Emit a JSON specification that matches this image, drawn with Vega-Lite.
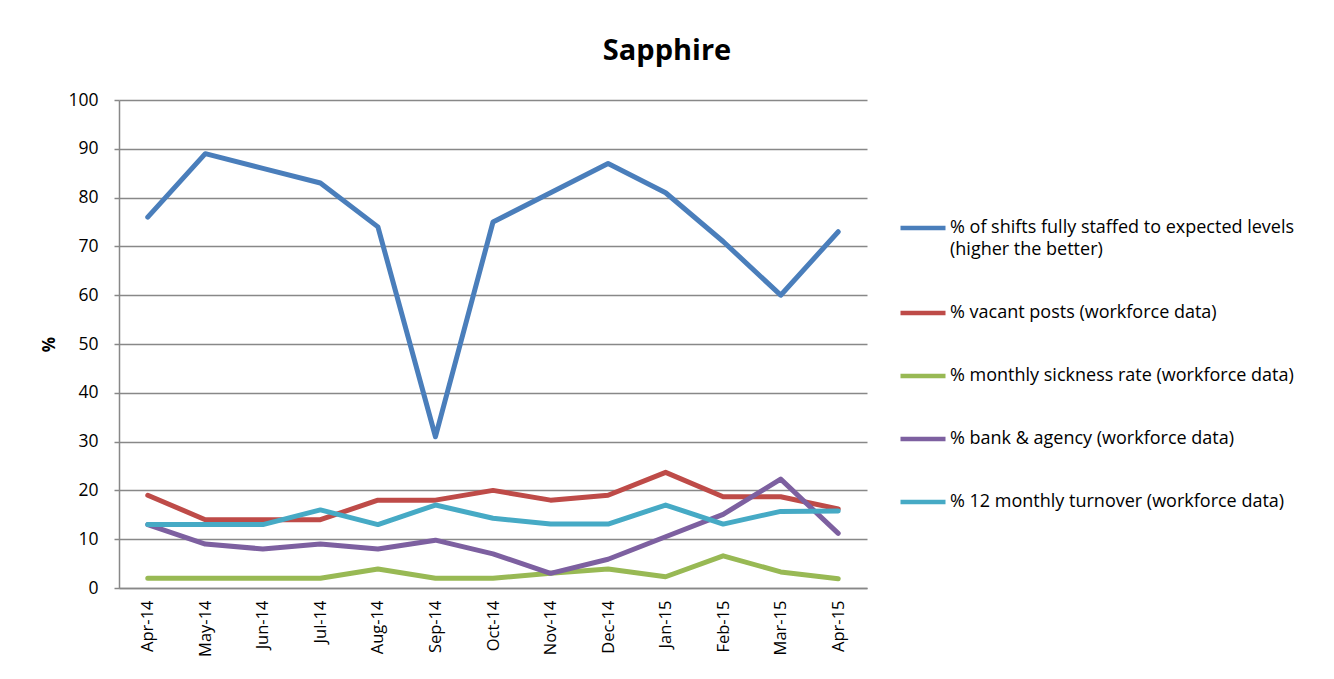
{
  "$schema": "https://vega.github.io/schema/vega-lite/v6.json",
  "autosize": "none",
  "padding": {"left": 119, "top": 100, "right": 467, "bottom": 91},
  "width": 748,
  "height": 488,
  "background": "white",
  "title": {"text": "Sapphire", "font": "Open Sans", "fontSize": 29, "fontWeight": "bold", "color": "black", "anchor": "middle", "dx": 174, "offset": 25},
  "config": {
    "view": {"stroke": null},
    "font": "Open Sans",
    "style": {"guide-label": {"lineHeight": 22}}
  },
  "data": {"values": [
    {"month": "Apr-14", "series": "% of shifts fully staffed to expected levels (higher the better)", "value": 76},
    {"month": "May-14", "series": "% of shifts fully staffed to expected levels (higher the better)", "value": 89},
    {"month": "Jun-14", "series": "% of shifts fully staffed to expected levels (higher the better)", "value": 86},
    {"month": "Jul-14", "series": "% of shifts fully staffed to expected levels (higher the better)", "value": 83},
    {"month": "Aug-14", "series": "% of shifts fully staffed to expected levels (higher the better)", "value": 74},
    {"month": "Sep-14", "series": "% of shifts fully staffed to expected levels (higher the better)", "value": 31},
    {"month": "Oct-14", "series": "% of shifts fully staffed to expected levels (higher the better)", "value": 75},
    {"month": "Nov-14", "series": "% of shifts fully staffed to expected levels (higher the better)", "value": 81},
    {"month": "Dec-14", "series": "% of shifts fully staffed to expected levels (higher the better)", "value": 87},
    {"month": "Jan-15", "series": "% of shifts fully staffed to expected levels (higher the better)", "value": 81},
    {"month": "Feb-15", "series": "% of shifts fully staffed to expected levels (higher the better)", "value": 71},
    {"month": "Mar-15", "series": "% of shifts fully staffed to expected levels (higher the better)", "value": 60},
    {"month": "Apr-15", "series": "% of shifts fully staffed to expected levels (higher the better)", "value": 73},
    {"month": "Apr-14", "series": "% vacant posts (workforce data)", "value": 19},
    {"month": "May-14", "series": "% vacant posts (workforce data)", "value": 14},
    {"month": "Jun-14", "series": "% vacant posts (workforce data)", "value": 14},
    {"month": "Jul-14", "series": "% vacant posts (workforce data)", "value": 14},
    {"month": "Aug-14", "series": "% vacant posts (workforce data)", "value": 18},
    {"month": "Sep-14", "series": "% vacant posts (workforce data)", "value": 18},
    {"month": "Oct-14", "series": "% vacant posts (workforce data)", "value": 20},
    {"month": "Nov-14", "series": "% vacant posts (workforce data)", "value": 18},
    {"month": "Dec-14", "series": "% vacant posts (workforce data)", "value": 19},
    {"month": "Jan-15", "series": "% vacant posts (workforce data)", "value": 23.7},
    {"month": "Feb-15", "series": "% vacant posts (workforce data)", "value": 18.7},
    {"month": "Mar-15", "series": "% vacant posts (workforce data)", "value": 18.7},
    {"month": "Apr-15", "series": "% vacant posts (workforce data)", "value": 16.2},
    {"month": "Apr-14", "series": "% monthly sickness rate (workforce data)", "value": 2},
    {"month": "May-14", "series": "% monthly sickness rate (workforce data)", "value": 2},
    {"month": "Jun-14", "series": "% monthly sickness rate (workforce data)", "value": 2},
    {"month": "Jul-14", "series": "% monthly sickness rate (workforce data)", "value": 2},
    {"month": "Aug-14", "series": "% monthly sickness rate (workforce data)", "value": 3.9},
    {"month": "Sep-14", "series": "% monthly sickness rate (workforce data)", "value": 2},
    {"month": "Oct-14", "series": "% monthly sickness rate (workforce data)", "value": 2},
    {"month": "Nov-14", "series": "% monthly sickness rate (workforce data)", "value": 3},
    {"month": "Dec-14", "series": "% monthly sickness rate (workforce data)", "value": 3.9},
    {"month": "Jan-15", "series": "% monthly sickness rate (workforce data)", "value": 2.3},
    {"month": "Feb-15", "series": "% monthly sickness rate (workforce data)", "value": 6.6},
    {"month": "Mar-15", "series": "% monthly sickness rate (workforce data)", "value": 3.3},
    {"month": "Apr-15", "series": "% monthly sickness rate (workforce data)", "value": 1.9},
    {"month": "Apr-14", "series": "% bank & agency (workforce data)", "value": 13},
    {"month": "May-14", "series": "% bank & agency (workforce data)", "value": 9},
    {"month": "Jun-14", "series": "% bank & agency (workforce data)", "value": 8},
    {"month": "Jul-14", "series": "% bank & agency (workforce data)", "value": 9},
    {"month": "Aug-14", "series": "% bank & agency (workforce data)", "value": 8},
    {"month": "Sep-14", "series": "% bank & agency (workforce data)", "value": 9.8},
    {"month": "Oct-14", "series": "% bank & agency (workforce data)", "value": 7},
    {"month": "Nov-14", "series": "% bank & agency (workforce data)", "value": 3},
    {"month": "Dec-14", "series": "% bank & agency (workforce data)", "value": 5.9},
    {"month": "Jan-15", "series": "% bank & agency (workforce data)", "value": 10.5},
    {"month": "Feb-15", "series": "% bank & agency (workforce data)", "value": 15.1},
    {"month": "Mar-15", "series": "% bank & agency (workforce data)", "value": 22.3},
    {"month": "Apr-15", "series": "% bank & agency (workforce data)", "value": 11.2},
    {"month": "Apr-14", "series": "% 12 monthly turnover (workforce data)", "value": 13},
    {"month": "May-14", "series": "% 12 monthly turnover (workforce data)", "value": 13},
    {"month": "Jun-14", "series": "% 12 monthly turnover (workforce data)", "value": 13},
    {"month": "Jul-14", "series": "% 12 monthly turnover (workforce data)", "value": 16},
    {"month": "Aug-14", "series": "% 12 monthly turnover (workforce data)", "value": 13},
    {"month": "Sep-14", "series": "% 12 monthly turnover (workforce data)", "value": 17},
    {"month": "Oct-14", "series": "% 12 monthly turnover (workforce data)", "value": 14.3},
    {"month": "Nov-14", "series": "% 12 monthly turnover (workforce data)", "value": 13.1},
    {"month": "Dec-14", "series": "% 12 monthly turnover (workforce data)", "value": 13.1},
    {"month": "Jan-15", "series": "% 12 monthly turnover (workforce data)", "value": 17},
    {"month": "Feb-15", "series": "% 12 monthly turnover (workforce data)", "value": 13.1},
    {"month": "Mar-15", "series": "% 12 monthly turnover (workforce data)", "value": 15.7},
    {"month": "Apr-15", "series": "% 12 monthly turnover (workforce data)", "value": 15.8}
  ]},
  "mark": {"type": "line", "strokeWidth": 5, "strokeCap": "round", "strokeJoin": "round"},
  "encoding": {
    "x": {
      "field": "month", "type": "ordinal", "sort": null,
      "scale": {"type": "point", "padding": 0.5},
      "axis": {
        "title": null, "labelAngle": -90, "labelAlign": "right", "labelBaseline": "middle",
        "labelFont": "Open Sans", "labelFontSize": 16.5, "labelColor": "black", "labelPadding": 12,
        "ticks": false, "grid": false, "domainColor": "#888888", "domainWidth": 1.5
      }
    },
    "y": {
      "field": "value", "type": "quantitative",
      "scale": {"domain": [0, 100], "nice": false},
      "axis": {
        "title": "%", "titleFont": "Open Sans", "titleFontSize": 17, "titleFontWeight": "bold", "titleColor": "black",
        "titlePadding": 9,
        "values": [0, 10, 20, 30, 40, 50, 60, 70, 80, 90, 100],
        "labelFont": "Open Sans", "labelFontSize": 17.5, "labelColor": "black", "labelPadding": 16,
        "tickSize": 5, "tickColor": "#888888", "tickWidth": 1.5,
        "domainColor": "#888888", "domainWidth": 1.5,
        "grid": true, "gridColor": "#888888", "gridWidth": 1.5
      }
    },
    "color": {
      "field": "series", "type": "nominal",
      "scale": {
        "domain": ["% of shifts fully staffed to expected levels (higher the better)", "% vacant posts (workforce data)", "% monthly sickness rate (workforce data)", "% bank & agency (workforce data)", "% 12 monthly turnover (workforce data)"],
        "range": ["#4A7EBB", "#BE4B48", "#98B954", "#7D60A0", "#46AAC5"]
      },
      "legend": {
        "title": null, "orient": "none", "legendX": 779, "legendY": 103,
        "symbolType": "stroke", "symbolSize": 2025, "symbolStrokeWidth": 4.5,
        "labelFont": "Open Sans", "labelFontSize": 18, "labelColor": "black", "labelLimit": 500,
        "labelOffset": 2, "rowPadding": 29, "labelBaseline": "middle",
        "labelExpr": "datum.label == '% of shifts fully staffed to expected levels (higher the better)' ? ['% of shifts fully staffed to expected levels', '(higher the better)'] : datum.label"
      }
    }
  }
}
